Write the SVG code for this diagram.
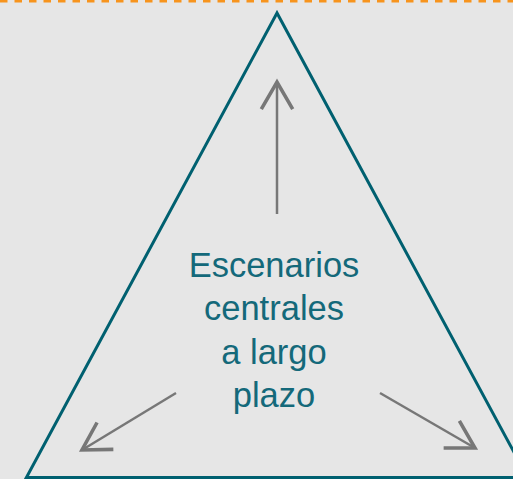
<svg xmlns="http://www.w3.org/2000/svg" width="513" height="479" viewBox="0 0 513 479">
<defs>
<style>
.tri{fill:none;stroke:#006070;stroke-width:3;stroke-linejoin:miter;stroke-miterlimit:10}
.arr{fill:none;stroke:#777777;stroke-width:2.5;marker-end:url(#chev)}
.lbl{font-family:"Liberation Sans",Arial,sans-serif;font-size:34.5px;fill:#14697a;text-anchor:middle}
</style>
<marker id="chev" markerUnits="userSpaceOnUse" markerWidth="40" markerHeight="40" viewBox="-22 -14 26 28" refX="0" refY="0" orient="auto" overflow="visible">
<path d="M-19,-11 L0,0 L-19,11" fill="none" stroke="#777777" stroke-width="2.5" stroke-linejoin="miter"/>
</marker>
</defs>
<rect x="0" y="0" width="513" height="479" fill="#e6e6e6"/>
<line x1="0" y1="1" x2="513" y2="1" stroke="#f7941d" stroke-width="3" stroke-dasharray="7.5 7"/>
<g id="triangle">
<polygon class="tri" points="277,13 26.4,477.5 527.6,477.5"/>
</g>
<g id="label">
<text class="lbl" x="274" y="276.5">Escenarios</text>
<text class="lbl" x="274" y="320">centrales</text>
<text class="lbl" x="274" y="363.5">a largo</text>
<text class="lbl" x="274" y="407">plazo</text>
</g>
<g id="connectors">
<line class="arr" x1="277" y1="214" x2="277" y2="82"/>
<line class="arr" x1="176" y1="393" x2="82" y2="450"/>
<line class="arr" x1="380" y1="393" x2="475" y2="448"/>
</g>
</svg>
